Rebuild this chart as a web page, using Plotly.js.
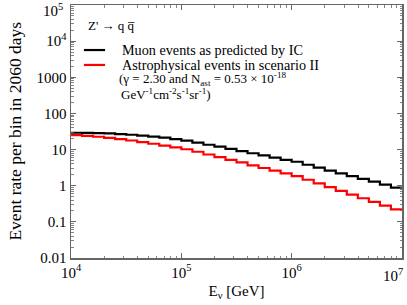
<!DOCTYPE html>
<html>
<head>
<meta charset="utf-8">
<script src="https://cdn.plot.ly/plotly-3.0.1.min.js"></script>
<style>html,body{margin:0;padding:0;background:#fff;}#chart{width:407px;height:305px;}</style>
</head>
<body>
<div id="chart"></div>
<script>
// Bin edges in log10(E/GeV), 10 bins per decade
const binEdgesLog = [4.0,4.1,4.2,4.3,4.4,4.5,4.6,4.7,4.8,4.9,
                     5.0,5.1,5.2,5.3,5.4,5.5,5.6,5.7,5.8,5.9,
                     6.0,6.1,6.2,6.3,6.4,6.5,6.6,6.7,6.8,6.9,7.0];
// Events per bin
const muonEvents = [29.2,29.0,28.5,27.9,26.9,25.7,24.3,22.9,21.4,19.5,
                    17.6,15.5,13.6,12.0,10.5,9.1,7.9,6.9,6.0,5.2,
                    4.6,3.8,3.16,2.63,2.19,1.84,1.55,1.29,1.07,0.88];
const astroEvents = [25.1,24.0,22.6,21.1,19.5,17.8,16.0,14.5,12.9,11.5,
                     10.2,8.7,7.3,6.2,5.2,4.4,3.67,3.09,2.60,2.19,
                     1.85,1.46,1.16,0.91,0.72,0.57,0.45,0.355,0.28,0.22];
const xTickVals = [1e4,1e5,1e6,1e7];
const xTickText = ['10<sup>4</sup>','10<sup>5</sup>','10<sup>6</sup>',''];
const yTickVals = [0.01,0.1,1,10,100,1000,1e4,1e5];
const yTickText = ['0.01','0.1','1','10','100','1000','10<sup>4</sup>',''];
const edgeLabelX = '10<sup>7</sup>';
const edgeLabelY = '10<sup>5</sup>';

const edges = binEdgesLog.map(v => Math.pow(10, v));
function stepY(vals){ return vals.concat([vals[vals.length-1]]); }

const font = 'Liberation Serif, Times New Roman, serif';
const axisColor = '#666';

const traces = [
  {x: edges, y: stepY(muonEvents), mode:'lines', line:{shape:'hv', color:'#000', width:2.2}, name:'Muon events as predicted by IC', showlegend:false},
  {x: edges, y: stepY(astroEvents), mode:'lines', line:{shape:'hv', color:'#ff0000', width:2.2}, name:'Astrophysical events in scenario II', showlegend:false}
];

const axisCommon = {
  showgrid:false, zeroline:false, showline:true, linecolor:axisColor, linewidth:1.5,
  mirror:'allticks', ticks:'inside', ticklen:5, tickwidth:1, tickcolor:axisColor,
  ticklabeloverflow:'allow',
  tickfont:{family:font, size:15, color:'#000'},
  minor:{ticks:'inside', ticklen:2.5, tickwidth:0.8, tickcolor:axisColor, dtick:'D1', showgrid:false}
};

const layout = {
  width:407, height:305,
  margin:{l:71, r:5, t:5, b:47},
  paper_bgcolor:'#fff', plot_bgcolor:'#fff',
  font:{family:font, color:'#000'},
  xaxis: Object.assign({}, axisCommon, {
    type:'log', range:[3.9995,7.0005], tickvals:xTickVals, ticktext:xTickText,
    title:{text:'E<sub>ν</sub> [GeV]', font:{family:font, size:15}, standoff:6}
  }),
  yaxis: Object.assign({}, axisCommon, {
    type:'log', range:[-2.0005,5.0005], tickvals:yTickVals, ticktext:yTickText
  }),
  shapes:[
    {type:'line', xref:'paper', yref:'paper', x0:0.039, x1:0.103, y0:0.822, y1:0.822, line:{color:'#000', width:2.2}},
    {type:'line', xref:'paper', yref:'paper', x0:0.039, x1:0.103, y0:0.763, y1:0.763, line:{color:'#ff0000', width:2.2}}
  ],
  annotations:[
    {xref:'paper', yref:'paper', x:1.01, y:-0.023, xanchor:'right', yanchor:'top', showarrow:false,
     text:edgeLabelX, font:{family:font, size:15}},
    {xref:'paper', yref:'paper', x:-0.018, y:1.022, xanchor:'right', yanchor:'top', showarrow:false,
     text:edgeLabelY, font:{family:font, size:15}},
    {xref:'paper', yref:'paper', x:-0.172, y:0.5, xanchor:'center', yanchor:'middle', showarrow:false, textangle:-90,
     text:'Event rate per bin in 2060 days', font:{family:font, size:17.5}},
    {xref:'paper', yref:'paper', x:0.045, y:0.917, xanchor:'left', yanchor:'middle', showarrow:false,
     text:"Z' → q q\u0305", font:{family:font, size:13}},
    {xref:'paper', yref:'paper', x:0.148, y:0.822, xanchor:'left', yanchor:'middle', showarrow:false,
     text:'Muon events as predicted by IC', font:{family:font, size:14.2}},
    {xref:'paper', yref:'paper', x:0.148, y:0.763, xanchor:'left', yanchor:'middle', showarrow:false,
     text:'Astrophysical events in scenario II', font:{family:font, size:14.2}},
    {xref:'paper', yref:'paper', x:0.139, y:0.706, xanchor:'left', yanchor:'middle', showarrow:false,
     text:'(γ = 2.30 and N<sub>ast</sub> = 0.53 × 10<sup>-18</sup>', font:{family:font, size:13}},
    {xref:'paper', yref:'paper', x:0.145, y:0.648, xanchor:'left', yanchor:'middle', showarrow:false,
     text:'GeV<sup>-1</sup>cm<sup>-2</sup>s<sup>-1</sup>sr<sup>-1</sup>)', font:{family:font, size:13}}
  ],
  showlegend:false
};

Plotly.newPlot('chart', traces, layout, {displayModeBar:false, staticPlot:true});
</script>
</body>
</html>
